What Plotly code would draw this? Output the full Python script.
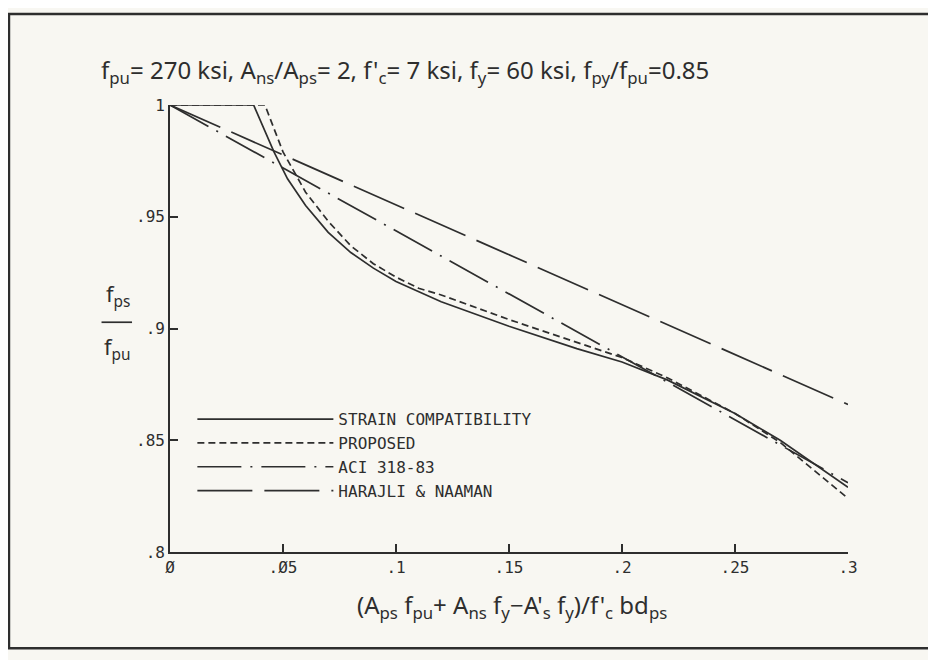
import plotly.graph_objects as go

# ---- data ----
sc_x = [0, 0.037, 0.046, 0.052, 0.06, 0.07, 0.08, 0.09, 0.1, 0.12, 0.15, 0.18, 0.2, 0.22, 0.25, 0.27, 0.3]
sc_y = [1, 1, 0.979, 0.967, 0.955, 0.943, 0.934, 0.927, 0.921, 0.912, 0.901, 0.891, 0.885, 0.877, 0.862, 0.850, 0.829]

pr_x = [0, 0.042, 0.05, 0.06, 0.07, 0.08, 0.09, 0.1, 0.11, 0.12, 0.15, 0.18, 0.2, 0.22, 0.25, 0.27, 0.3]
pr_y = [1, 1, 0.979, 0.961, 0.948, 0.937, 0.929, 0.923, 0.918, 0.915, 0.904, 0.894, 0.887, 0.878, 0.862, 0.849, 0.824]

aci_x = [0, 0.3]
aci_y = [1, 0.831]

hn_x = [0, 0.3]
hn_y = [1, 0.866]

names = ["STRAIN COMPATIBILITY", "PROPOSED", "ACI 318-83", "HARAJLI & NAAMAN"]

x_tickvals = [0, 0.05, 0.1, 0.15, 0.2, 0.25, 0.3]
x_ticktext = ["Ø", ".Ø5", ".1", ".15", ".2", ".25", ".3"]
y_tickvals = [0.8, 0.85, 0.9, 0.95, 1.0]
y_ticktext = [".8", ".85", ".9", ".95", "1"]

INK = "#2e2e2e"
BG = "#f8f7f2"
MONO = "DejaVu Sans Mono"
SANS = "Noto Sans"

series = [
    (sc_x, sc_y, "solid"),
    (pr_x, pr_y, "7px,4px"),
    (aci_x, aci_y, "44px,9px,2px,9px"),
    (hn_x, hn_y, "55px,12px"),
]

fig = go.Figure()
for (xs, ys, dash), nm in zip(series, names):
    fig.add_trace(go.Scatter(x=xs, y=ys, mode="lines", name=nm,
                             line=dict(color=INK, width=1.7, dash=dash)))

# page body has an 8px default margin; figure sized so the plot lands where the reference has it
fig.update_layout(
    width=928, height=652,
    margin=dict(l=162, r=88, t=97, b=108),
    paper_bgcolor=BG, plot_bgcolor=BG,
    showlegend=True,
    legend=dict(x=0.033, y=0.335, xanchor="left", yanchor="top",
                bgcolor="rgba(0,0,0,0)", itemwidth=136,
                font=dict(family=MONO, size=16, color=INK),
                tracegroupgap=0, itemclick=False),
    xaxis=dict(range=[0, 0.3], tickvals=x_tickvals, ticktext=x_ticktext,
               ticks="inside", ticklen=8, tickcolor=INK, tickwidth=1.5,
               showline=True, linecolor=INK, linewidth=1.7, showgrid=False,
               zeroline=False, tickfont=dict(family=MONO, size=16, color=INK)),
    yaxis=dict(range=[0.8, 1.0], tickvals=y_tickvals, ticktext=y_ticktext,
               ticks="inside", ticklen=8, tickcolor=INK, tickwidth=1.5,
               showline=True, linecolor=INK, linewidth=1.7, showgrid=False,
               zeroline=False, tickfont=dict(family=MONO, size=16, color=INK)),
)

# title
fig.add_annotation(
    xref="paper", yref="paper", x=-0.105, y=1.075, xanchor="left", yanchor="middle",
    showarrow=False, font=dict(family=SANS, size=24, color=INK),
    text="f<sub>pu</sub>= 270 ksi, A<sub>ns</sub>/A<sub>ps</sub>= 2, f'<sub>c</sub>= 7 ksi, "
         "f<sub>y</sub>= 60 ksi, f<sub>py</sub>/f<sub>pu</sub>=0.85")

# y-axis label as fraction
fig.add_annotation(xref="paper", yref="paper", x=-0.077, y=0.532, xanchor="center",
                   yanchor="bottom", showarrow=False,
                   font=dict(family=SANS, size=22, color=INK), text="f<sub>ps</sub>")
fig.add_annotation(xref="paper", yref="paper", x=-0.077, y=0.500, xanchor="center",
                   yanchor="top", showarrow=False,
                   font=dict(family=SANS, size=22, color=INK), text="f<sub>pu</sub>")
fig.add_shape(type="line", xref="paper", yref="paper", x0=-0.101, x1=-0.056,
              y0=0.514, y1=0.514, line=dict(color=INK, width=1.7))

# x-axis title
fig.add_annotation(xref="paper", yref="paper", x=0.505, y=-0.075, xanchor="center",
                   yanchor="top", showarrow=False,
                   font=dict(family=SANS, size=24, color=INK),
                   text="(A<sub>ps</sub> f<sub>pu</sub>+ A<sub>ns</sub> f<sub>y</sub>−A'<sub>s</sub> "
                        "f<sub>y</sub>)/f'<sub>c</sub> bd<sub>ps</sub>")

# outer frame
fig.add_shape(type="rect", xref="paper", yref="paper", x0=-0.2375, x1=1.1205,
              y0=-0.2155, y1=1.2035, line=dict(color=INK, width=2.5), layer="below")

fig.write_html("out.html")
